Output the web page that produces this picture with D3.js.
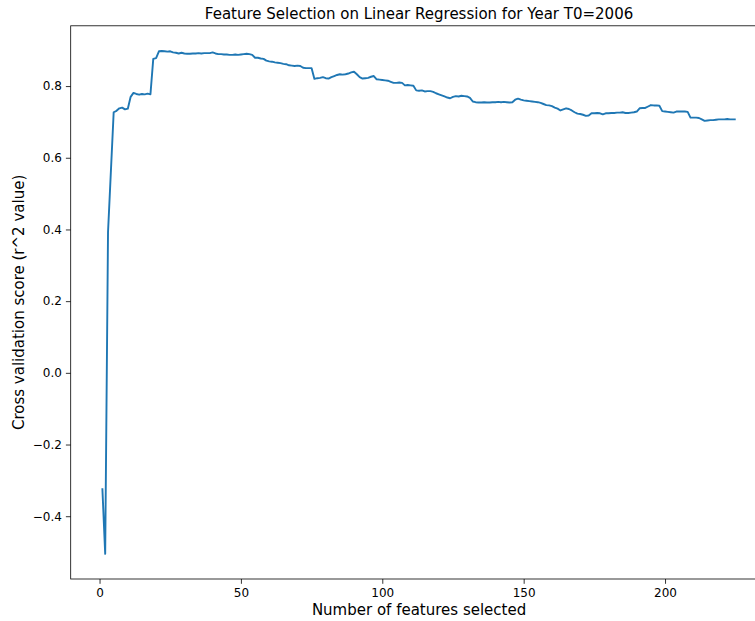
<!DOCTYPE html>
<html>
<head>
<meta charset="utf-8">
<script src="https://cdn.jsdelivr.net/npm/d3@7"></script>
<style>
  body { margin: 0; background: #fff; }
  svg { font-family: "DejaVu Sans", sans-serif; display: block; }
</style>
</head>
<body>
<div id="vis"></div>
<script>
const frame_width = 755;
const frame_height = 621;
const margins = {left: 70.7, right: -12.4, top: 25.8, bottom: 42};

// cross validation score for 1..225 features
const scores = [
  -0.322, -0.505, 0.393, 0.56, 0.727, 0.731, 0.738, 0.740, 0.735, 0.737,
  0.770, 0.781, 0.778, 0.776, 0.778, 0.777, 0.779, 0.777, 0.876, 0.878,
  0.897, 0.898, 0.897, 0.896, 0.897, 0.894, 0.893, 0.891, 0.893, 0.891,
  0.890, 0.890, 0.891, 0.891, 0.892, 0.891, 0.892, 0.892, 0.892, 0.894,
  0.891, 0.889, 0.889, 0.888, 0.888, 0.887, 0.887, 0.888, 0.887, 0.888,
  0.889, 0.890, 0.889, 0.887, 0.879, 0.879, 0.877, 0.876, 0.871, 0.869,
  0.868, 0.866, 0.865, 0.864, 0.862, 0.861, 0.858, 0.857, 0.856, 0.857,
  0.856, 0.851, 0.850, 0.850, 0.850, 0.820, 0.822, 0.823, 0.825, 0.822,
  0.821, 0.825, 0.828, 0.831, 0.833, 0.832, 0.833, 0.835, 0.838, 0.840,
  0.833, 0.825, 0.821, 0.822, 0.823, 0.826, 0.828, 0.819, 0.818, 0.817,
  0.816, 0.815, 0.812, 0.809, 0.809, 0.810, 0.809, 0.802, 0.803, 0.802,
  0.801, 0.788, 0.787, 0.788, 0.785, 0.786, 0.786, 0.784, 0.780, 0.777,
  0.774, 0.771, 0.768, 0.766, 0.770, 0.772, 0.771, 0.773, 0.772, 0.771,
  0.767, 0.757, 0.755, 0.754, 0.754, 0.755, 0.754, 0.754, 0.755, 0.755,
  0.756, 0.755, 0.756, 0.755, 0.754, 0.755, 0.762, 0.765, 0.762, 0.760,
  0.759, 0.758, 0.757, 0.756, 0.755, 0.753, 0.750, 0.747, 0.746, 0.744,
  0.740, 0.737, 0.732, 0.735, 0.738, 0.736, 0.732, 0.727, 0.723, 0.722,
  0.720, 0.717, 0.718, 0.724, 0.724, 0.725, 0.724, 0.721, 0.724, 0.724,
  0.725, 0.725, 0.726, 0.726, 0.727, 0.725, 0.725, 0.726, 0.727, 0.729,
  0.738, 0.739, 0.739, 0.743, 0.747, 0.746, 0.746, 0.745, 0.730, 0.729,
  0.728, 0.727, 0.726, 0.729, 0.729, 0.729, 0.729, 0.728, 0.712, 0.712,
  0.712, 0.711, 0.707, 0.703, 0.704, 0.705, 0.705, 0.706, 0.707, 0.707,
  0.707, 0.708, 0.707, 0.707, 0.707
];
const x_ticks = [0, 50, 100, 150, 200];
const y_ticks = [-0.4, -0.2, 0.0, 0.2, 0.4, 0.6, 0.8];

const n = scores.length;
const points = scores.map((v, i) => ({n: i + 1, v: v}));

const svg = d3.select("#vis")
  .append("svg")
    .attr("width", frame_width)
    .attr("height", frame_height);

const x_pad = 0.05 * (n - 1);
const x_scale = d3.scaleLinear()
  .domain([1 - x_pad, n + x_pad])
  .range([margins.left, frame_width - margins.right]);

const y_min = d3.min(scores), y_max = d3.max(scores);
const y_pad = 0.05 * (y_max - y_min);
const y_scale = d3.scaleLinear()
  .domain([y_min - y_pad, y_max + y_pad])
  .range([frame_height - margins.bottom, margins.top]);

const fmt = (d) => d3.format(".1f")(d).replace("-", "\u2212");

// x axis
const gx = svg.append("g")
  .attr("transform", "translate(0," + (frame_height - margins.bottom) + ")")
  .call(d3.axisBottom(x_scale).tickValues(x_ticks).tickSize(4.8).tickPadding(4.5).tickFormat(d3.format("d")));

// y axis
const gy = svg.append("g")
  .attr("transform", "translate(" + margins.left + ",0)")
  .call(d3.axisLeft(y_scale).tickValues(y_ticks).tickSize(4.8).tickPadding(4).tickFormat(fmt));

[gx, gy].forEach((g) => {
  g.select(".domain").remove();
  g.selectAll("line").attr("stroke", "#000").attr("stroke-width", 0.8);
  g.selectAll("text").attr("font-size", "12px").attr("fill", "#000")
    .attr("font-family", "DejaVu Sans, sans-serif");
});

// frame
svg.append("rect")
  .attr("x", x_scale.range()[0])
  .attr("y", y_scale.range()[1])
  .attr("width", x_scale.range()[1] - x_scale.range()[0])
  .attr("height", y_scale.range()[0] - y_scale.range()[1])
  .attr("fill", "none")
  .attr("stroke", "#000")
  .attr("stroke-width", 0.8);

// line
svg.append("path")
  .datum(points)
  .attr("fill", "none")
  .attr("stroke", "#1f77b4")
  .attr("stroke-width", 1.9)
  .attr("stroke-linejoin", "round")
  .attr("d", d3.line().x((d) => x_scale(d.n)).y((d) => y_scale(d.v)));

// title and axis labels
const cx = (x_scale.range()[0] + x_scale.range()[1]) / 2;
svg.append("text")
  .attr("x", cx).attr("y", 19)
  .attr("text-anchor", "middle")
  .attr("font-size", "15px")
  .text("Feature Selection on Linear Regression for Year T0=2006");

svg.append("text")
  .attr("x", cx).attr("y", 615)
  .attr("text-anchor", "middle")
  .attr("font-size", "15px")
  .text("Number of features selected");

const cy = (y_scale.range()[0] + y_scale.range()[1]) / 2;
svg.append("text")
  .attr("transform", "translate(24," + cy + ") rotate(-90)")
  .attr("text-anchor", "middle")
  .attr("font-size", "15px")
  .text("Cross validation score (r^2 value)");
</script>
</body>
</html>
